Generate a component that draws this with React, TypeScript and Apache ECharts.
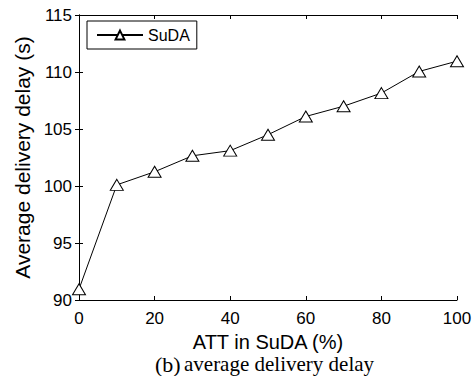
import React, { useEffect, useRef } from "react";
import * as echarts from "echarts";

const xValues = [0, 10, 20, 30, 40, 50, 60, 70, 80, 90, 100];
const sudaDelay = [90.95, 100.1, 101.25, 102.65, 103.1, 104.5, 106.1, 107.0, 108.15, 110.05, 110.95];
const seriesName = "SuDA";
const xName = "ATT in SuDA (%)";
const yName = "Average delivery delay (s)";

export default function App() {
  const ref = useRef<HTMLDivElement>(null);
  useEffect(() => {
    if (!ref.current) return;
    const chart = echarts.init(ref.current, null, { renderer: "svg" });
    const font = "Liberation Sans, Arial, sans-serif";
    const serif = "Liberation Serif, Times New Roman, serif";
    const axisCommon = {
      type: "value" as const,
      axisLine: { show: true, lineStyle: { color: "#000", width: 1 } },
      axisTick: { show: true, inside: true, length: 4, lineStyle: { color: "#000" } },
      splitLine: { show: false },
    };
    chart.setOption({
      animation: false,
      backgroundColor: "#fff",
      grid: { left: 79, right: 19, top: 15, bottom: 76, containLabel: false },
      legend: {
        show: true,
        left: 87,
        top: 21,
        borderColor: "#000",
        borderWidth: 1,
        padding: [6, 7, 6, 9],
        itemWidth: 46,
        itemHeight: 11,
        itemGap: 4,
        textStyle: { fontFamily: font, fontSize: 16, color: "#000" },
        data: [seriesName],
      },
      xAxis: [
        {
          ...axisCommon,
          min: 0,
          max: 100,
          interval: 20,
          position: "bottom",
          axisLabel: { color: "#000", fontFamily: font, fontSize: 17, margin: 10 },
          name: xName,
          nameLocation: "middle",
          nameGap: 29,
          nameTextStyle: { color: "#000", fontFamily: font, fontSize: 20, lineHeight: 20 },
        },
        {
          ...axisCommon,
          min: 0,
          max: 100,
          interval: 20,
          position: "top",
          axisLabel: { show: false },
        },
      ],
      yAxis: [
        {
          ...axisCommon,
          min: 90,
          max: 115,
          interval: 5,
          position: "left",
          axisLabel: { color: "#000", fontFamily: font, fontSize: 17, margin: 7 },
          name: yName,
          nameLocation: "middle",
          nameGap: 38,
          nameTextStyle: { color: "#000", fontFamily: font, fontSize: 21 },
        },
        {
          ...axisCommon,
          min: 90,
          max: 115,
          interval: 5,
          position: "right",
          axisLabel: { show: false },
        },
      ],
      graphic: [
        {
          type: "text",
          left: 155,
          top: 353,
          style: {
            text: "{b|(b)} {t|average delivery delay}",
            rich: {
              b: { fontFamily: serif, fontSize: 22, lineHeight: 22, fill: "#000" },
              t: { fontFamily: serif, fontSize: 21, lineHeight: 22, fill: "#000" },
            },
          },
        },
      ],
      series: [
        {
          name: seriesName,
          type: "line",
          xAxisIndex: 0,
          yAxisIndex: 0,
          data: xValues.map((x, i) => [x, sudaDelay[i]]),
          symbol: "triangle",
          symbolSize: [13, 11],
          showAllSymbol: true,
          lineStyle: { color: "#000", width: 1 },
          itemStyle: { color: "#fff", borderColor: "#000", borderWidth: 1 },
          emphasis: { disabled: true },
        },
      ],
    });
    return () => chart.dispose();
  }, []);
  return (
    <div
      ref={ref}
      style={{ position: "absolute", left: 0, top: 0, width: 476, height: 376 }}
    />
  );
}
